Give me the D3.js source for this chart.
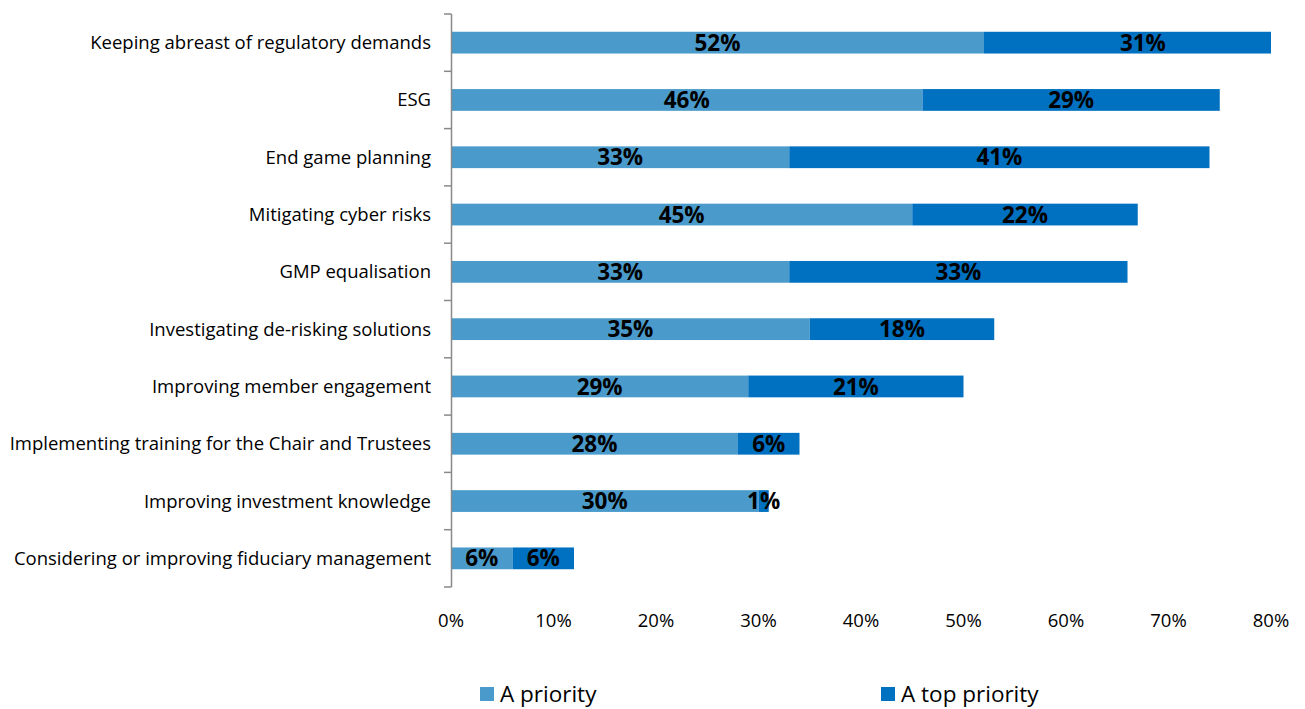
<!DOCTYPE html>
<html><head><meta charset="utf-8">
<script src="https://cdn.jsdelivr.net/npm/d3@7"></script>
<style>body{margin:0;background:#fff}svg{display:block}</style>
</head><body>
<svg id="c" width="1305" height="709"></svg>
<script>
const categories = ["Keeping abreast of regulatory demands","ESG","End game planning","Mitigating cyber risks","GMP equalisation","Investigating de-risking solutions","Improving member engagement","Implementing training for the Chair and Trustees","Improving investment knowledge","Considering or improving fiduciary management"];
const aPriority = [52,46,33,45,33,35,29,28,30,6];
const aTopPriority = [31,29,41,22,33,18,21,6,1,6];
const seriesNames = ["A priority","A top priority"];
const xTicks = [0,10,20,30,40,50,60,70,80];
const colors = ["#4a9bcb","#0070c0"];

const svg = d3.select("#c");
const font = "'Open Sans', sans-serif";
const x = d3.scaleLinear().domain([0,80]).range([451,1271]);
const y = d3.scaleBand().domain(categories).range([14,587]).paddingInner(0.62).paddingOuter(0.31);
const band = (587-14)/categories.length;

categories.forEach((c,i)=>{
  const vals=[aPriority[i],aTopPriority[i]];
  let start=0;
  vals.forEach((v,j)=>{
    const x0=x(Math.min(start,80)), x1=x(Math.min(start+v,80));
    svg.append("rect").attr("x",x0).attr("y",y(c)).attr("width",Math.max(0,x1-x0)).attr("height",y.bandwidth()).attr("fill",colors[j]);
    start+=v;
  });
});
categories.forEach((c,i)=>{
  const vals=[aPriority[i],aTopPriority[i]];
  let start=0;
  vals.forEach((v,j)=>{
    svg.append("text").attr("x",x(start+v/2)).attr("y",y(c)+y.bandwidth()/2).attr("dy","0.36em")
      .attr("text-anchor","middle").attr("font-family",font).attr("font-weight","bold").attr("font-size","22.5px").attr("fill","#000").text(v+"%");
    start+=v;
  });
});

const ax = svg.append("g");
ax.append("line").attr("x1",451.5).attr("x2",451.5).attr("y1",14).attr("y2",587).attr("stroke","#898989").attr("stroke-width",1.5);
d3.range(categories.length+1).forEach(k=>{
  const yy=14+k*band;
  ax.append("line").attr("x1",444).attr("x2",451.5).attr("y1",yy).attr("y2",yy).attr("stroke","#898989").attr("stroke-width",1.5);
});
categories.forEach(c=>{
  svg.append("text").attr("x",431).attr("y",y(c)+y.bandwidth()/2).attr("dy","0.35em").attr("text-anchor","end")
    .attr("font-family",font).attr("font-size","18.5px").attr("fill","#000").text(c);
});
xTicks.forEach(t=>{
  svg.append("text").attr("x",x(t)).attr("y",621).attr("dy","0.35em").attr("text-anchor","middle")
    .attr("font-family",font).attr("font-size","18.5px").attr("fill","#000").text(t+"%");
});
const leg=[{x:480,name:seriesNames[0],c:colors[0]},{x:881,name:seriesNames[1],c:colors[1]}];
leg.forEach(l=>{
  svg.append("rect").attr("x",l.x).attr("y",687).attr("width",14).attr("height",14).attr("fill",l.c);
  svg.append("text").attr("x",l.x+20).attr("y",702).attr("font-family",font).attr("font-size","22.5px").attr("fill","#000").text(l.name);
});
</script>
</body></html>
